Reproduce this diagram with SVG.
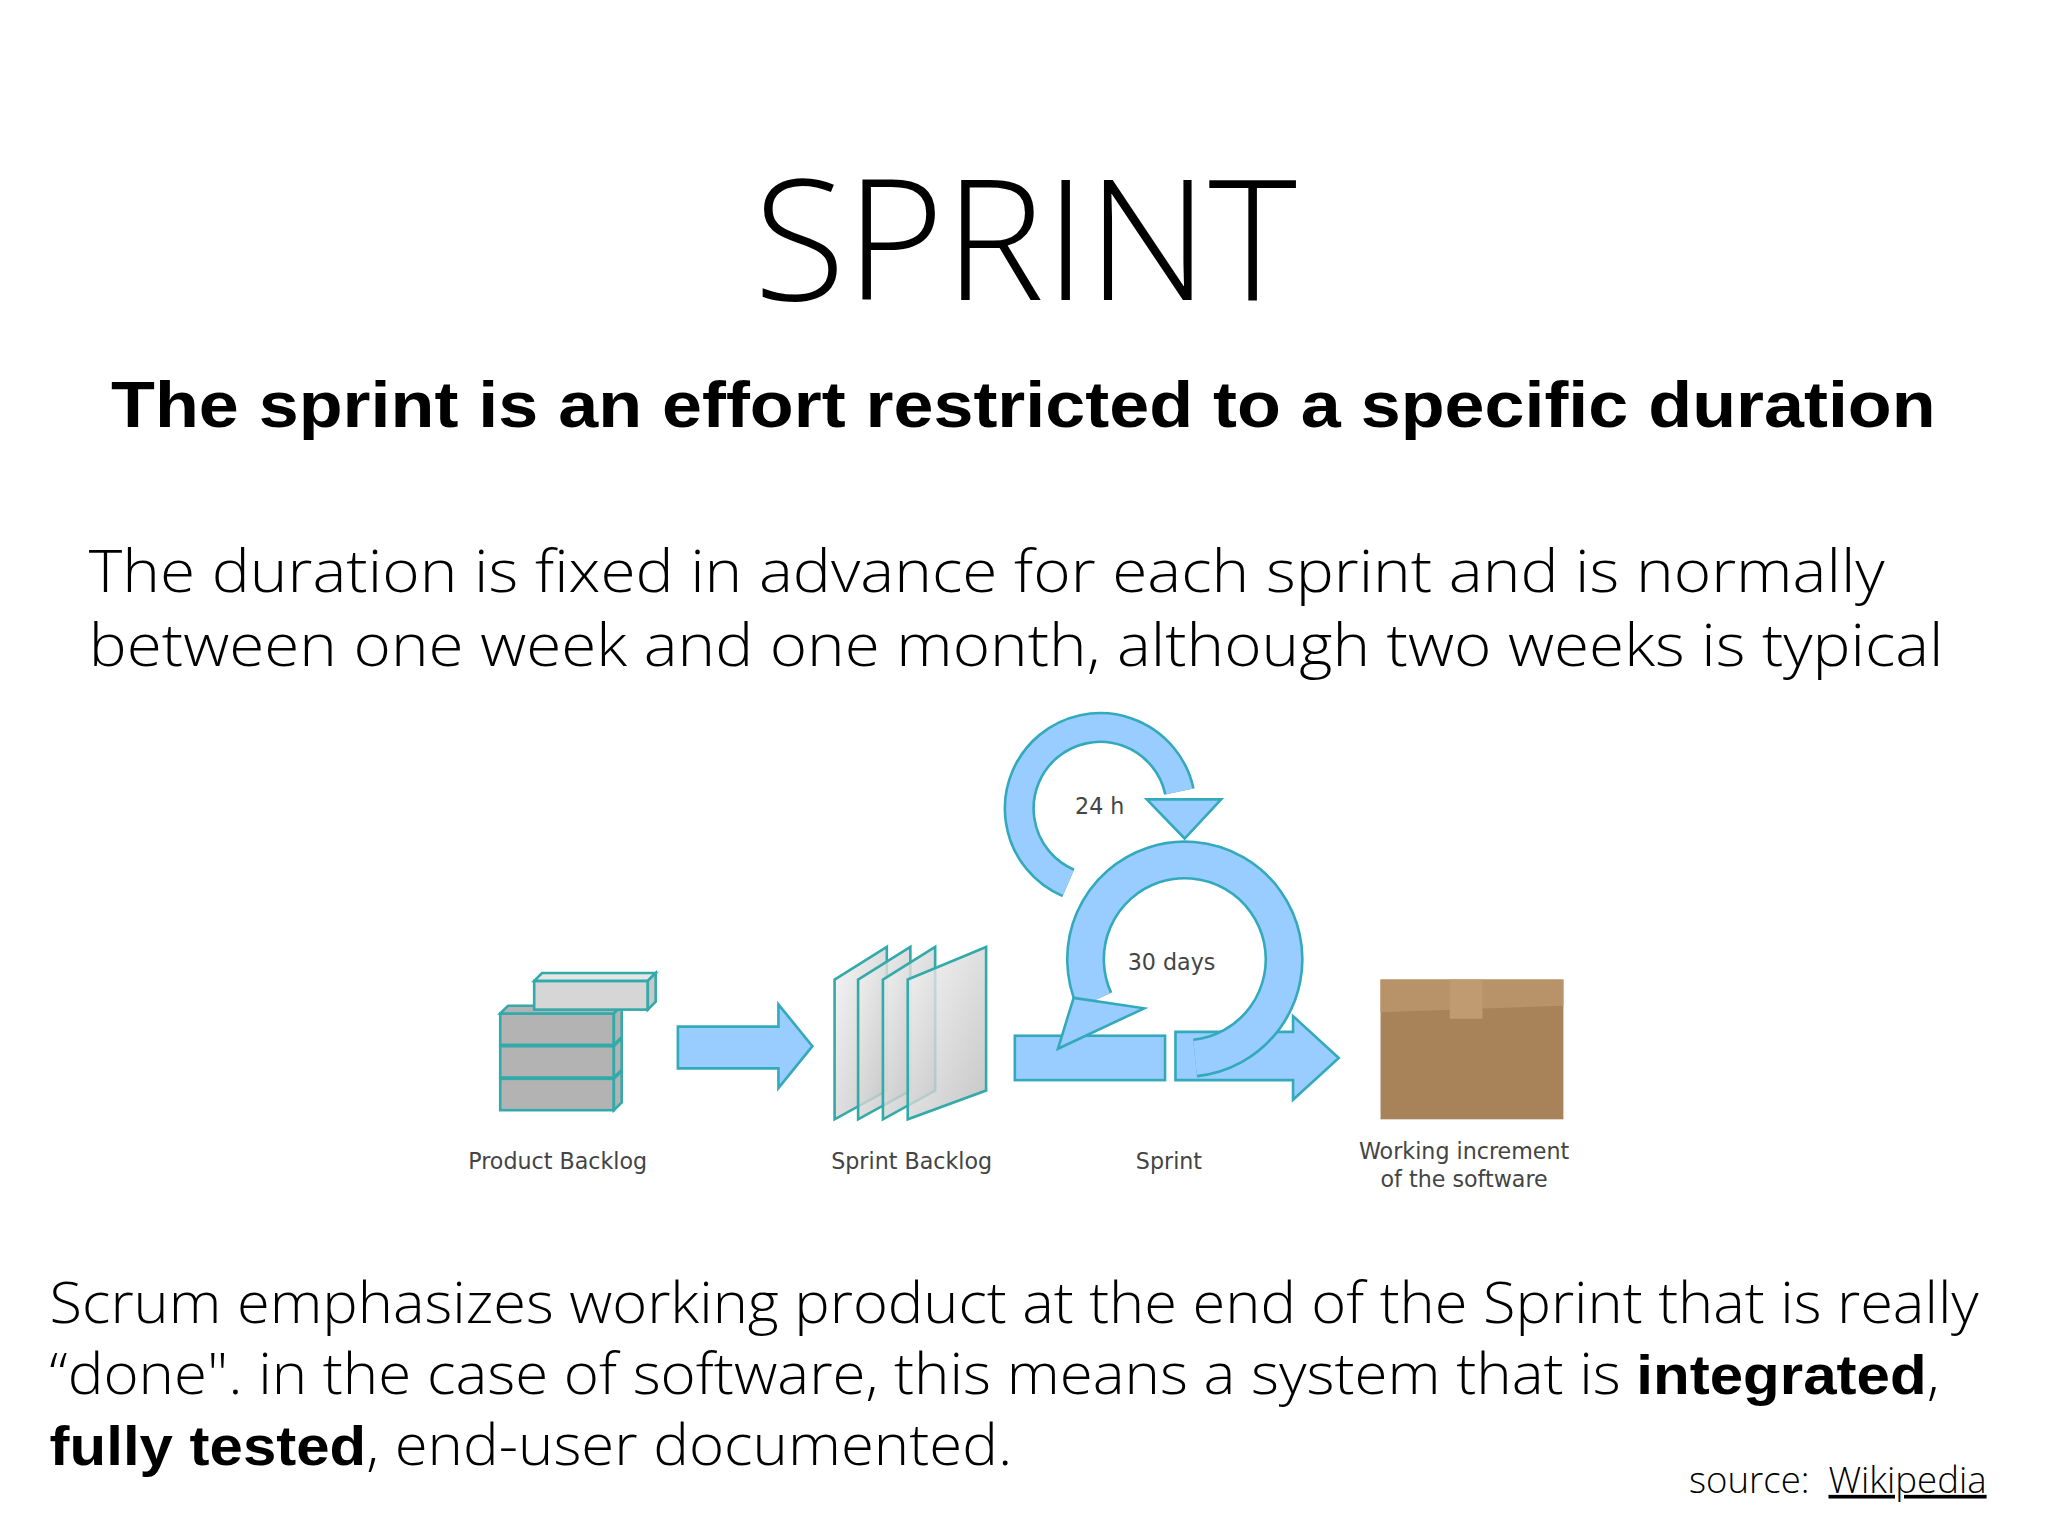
<svg xmlns="http://www.w3.org/2000/svg" width="2048" height="1536" viewBox="0 0 2048 1536">
<defs>
<linearGradient id="sheet" x1="0" y1="0" x2="1" y2="1"><stop offset="0" stop-color="#f4f4f4"/><stop offset="1" stop-color="#b8b8b8"/></linearGradient>
<style>
.l{font-family:"Open Sans","Liberation Sans",sans-serif;font-weight:300;fill:#000}
.b{font-family:"Liberation Sans",Arial,sans-serif;font-weight:bold;fill:#000}
.lab{font-family:"DejaVu Sans",sans-serif;font-size:17px;fill:#444}
.blue{fill:#99ccff;stroke:#33aabb;stroke-width:2}
.box{fill:#b3b3b3;stroke:#33aaaa;stroke-width:2}
</style>
</defs>
<rect width="2048" height="1536" fill="#fff"/>
<g transform="scale(1.3061)">
<g id="title">
<text class="l" x="785" y="230" font-size="128" text-anchor="middle" textLength="416" lengthAdjust="spacingAndGlyphs">SPRINT</text>
<text class="b" x="85" y="327" font-size="50" textLength="1397" lengthAdjust="spacingAndGlyphs">The sprint is an effort restricted to a specific duration</text>
<text class="l" x="68" y="453" font-size="45" textLength="1375" lengthAdjust="spacingAndGlyphs">The duration is fixed in advance for each sprint and is normally</text>
<text class="l" x="68" y="510" font-size="45" textLength="1420" lengthAdjust="spacingAndGlyphs">between one week and one month, although two weeks is typical</text>
</g>
<g id="product-backlog">
<rect class="box" x="383" y="826" width="87" height="24"/>
<polygon class="box" points="470,826 476,820 476,844 470,850"/>
<rect class="box" x="383" y="801" width="87" height="24"/>
<polygon class="box" points="470,801 476,795 476,819 470,825"/>
<rect class="box" x="383" y="776" width="87" height="24"/>
<polygon class="box" points="383,776 389,770 476,770 470,776"/>
<polygon class="box" points="470,776 476,770 476,794 470,800"/>
<rect x="409" y="751" width="87" height="22" fill="#d6d6d6" stroke="#33aaaa" stroke-width="2"/>
<polygon points="409,751 415,745 502,745 496,751" fill="#e6e6e6" stroke="#33aaaa" stroke-width="2"/>
<polygon points="496,751 502,745 502,767 496,773" fill="#c8c8c8" stroke="#33aaaa" stroke-width="2"/>
<text class="lab" x="427" y="895" text-anchor="middle">Product Backlog</text>
</g>
<g id="connectors">
<polygon class="blue" points="519,786 596,786 596,769 622,801 596,833 596,818 519,818"/>
<polygon class="blue" points="900,790 990,790 990,778 1025,810 990,842 990,827 900,827"/>
</g>
<g id="sprint-backlog">
<polygon points="639,750 679,725 679,835 639,857" fill="url(#sheet)" fill-opacity="0.8" stroke="#33aaaa" stroke-width="2"/>
<polygon points="657,750 697,725 697,835 657,857" fill="url(#sheet)" fill-opacity="0.8" stroke="#33aaaa" stroke-width="2"/>
<polygon points="676,750 716,725 716,835 676,857" fill="url(#sheet)" fill-opacity="0.8" stroke="#33aaaa" stroke-width="2"/>
<polygon points="695,750 755,725 755,835 695,857" fill="url(#sheet)" fill-opacity="0.8" stroke="#33aaaa" stroke-width="2"/>
<text class="lab" x="698" y="895" text-anchor="middle">Sprint Backlog</text>
</g>
<g id="sprint">
<path d="M818,676 A62,62 0 1 1 903,606" fill="none" stroke="#33aabb" stroke-width="24"/>
<path d="M818,676 A62,62 0 1 1 903,606" fill="none" stroke="#99ccff" stroke-width="20"/>
<polygon class="blue" points="878,612 935,612 907,642"/>
<rect class="blue" x="777" y="793" width="115" height="34"/>
<path d="M915,810 A76,76 0 1 0 838,766" fill="none" stroke="#33aabb" stroke-width="30"/>
<path d="M915,810 A76,76 0 1 0 838,766" fill="none" stroke="#99ccff" stroke-width="26"/>
<polygon class="blue" points="822,764 876,772 810,803"/>
<text class="lab" x="842" y="623" text-anchor="middle" font-size="19">24 h</text>
<text class="lab" x="897" y="743" text-anchor="middle" font-size="19">30 days</text>
<text class="lab" x="895" y="895" text-anchor="middle">Sprint</text>
</g>
<g id="working-increment">
<rect x="1057" y="750" width="140" height="107" fill="#a8835a"/>
<polygon points="1057,750 1197,750 1197,770 1057,775" fill="#b89268"/>
<rect x="1110" y="750" width="25" height="30" fill="#c09a70"/>
<text class="lab" x="1121" y="887" text-anchor="middle">Working increment</text>
<text class="lab" x="1121" y="909" text-anchor="middle">of the software</text>
</g>
<g id="footer">
<text class="l" x="38" y="1013" font-size="43" textLength="1477" lengthAdjust="spacingAndGlyphs">Scrum emphasizes working product at the end of the Sprint that is really</text>
<text class="l" x="38" y="1067" font-size="43" textLength="1447" lengthAdjust="spacingAndGlyphs">“done". in the case of software, this means a system that is <tspan class="b">integrated</tspan>,</text>
<text class="l" x="38" y="1122" font-size="43" textLength="737" lengthAdjust="spacingAndGlyphs"><tspan class="b">fully tested</tspan>, end-user documented.</text>
<text class="l" x="1521" y="1143" font-size="28" text-anchor="end" xml:space="preserve">source:  <tspan text-decoration="underline">Wikipedia</tspan></text>
</g>
</g>
</svg>
